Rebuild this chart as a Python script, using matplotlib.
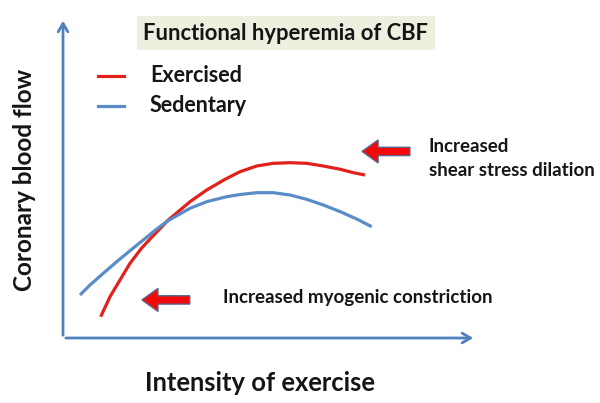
import matplotlib
matplotlib.use("Agg")
import matplotlib.pyplot as plt
from matplotlib.patches import FancyArrow, Rectangle

plt.rcParams["font.family"] = ["Lato", "DejaVu Sans"]

# ── Data (arbitrary units 0-100) ─────────────────────────────────────────────
exercised_x = [9.13, 11.38, 13.80, 16.22, 19.06, 21.07, 25.50, 30.75, 34.79, 39.23,
               42.86, 46.90, 50.92, 54.96, 59.01, 63.03, 67.14, 70.29, 73.12]
exercised_y = [6.66, 12.91, 18.13, 23.34, 28.13, 30.94, 36.88, 42.59, 46.25, 49.59,
               51.97, 53.75, 54.59, 54.78, 54.59, 53.75, 52.72, 51.66, 50.94]
sedentary_x = [4.12, 6.54, 9.76, 13.00, 16.22, 19.44, 22.69, 25.50, 30.75, 34.79,
               39.64, 42.86, 46.90, 50.92, 54.96, 59.01, 63.03, 67.14, 71.11, 74.75]
sedentary_y = [13.44, 16.56, 20.22, 23.84, 27.28, 30.63, 34.06, 36.72, 40.53, 42.59,
               44.16, 44.84, 45.41, 45.41, 44.69, 43.34, 41.56, 39.47, 37.19, 34.78]
series_labels = ["Exercised", "Sedentary"]

RED = "#E2201C"
BLUE = "#5A8CC8"
AXIS_CLR = "#4F81BD"
ARROW_EDGE = "#56688F"
TXT = "#151515"

W, H = 600, 403
fig = plt.figure(figsize=(6, 4.03), dpi=100)
fig.patch.set_facecolor("white")

# axes box in pixels: left 63, right 476, top 18, bottom 338
ax = fig.add_axes([63 / W, (H - 338) / H, (476 - 63) / W, (338 - 18) / H])
ax.set_xlim(0, 100)
ax.set_ylim(0, 100)
for s in ax.spines.values():
    s.set_visible(False)
ax.set_xticks([])
ax.set_yticks([])
ax.set_facecolor("none")

# axis arrows
arrow_kw = dict(arrowstyle="->,head_length=0.6,head_width=0.35", color=AXIS_CLR, lw=2)
ax.annotate("", xy=(1, 0), xytext=(0, 0), xycoords="axes fraction", arrowprops=arrow_kw)
ax.annotate("", xy=(0, 1), xytext=(0, 0), xycoords="axes fraction", arrowprops=arrow_kw)

ax.plot(exercised_x, exercised_y, color=RED, lw=2.3, solid_capstyle="butt")
ax.plot(sedentary_x, sedentary_y, color=BLUE, lw=2.3, solid_capstyle="butt")


def block_arrow(x_tip, y, length):
    a = FancyArrow(x_tip + length, y, -length, 0, width=2.6, head_width=7.2,
                   head_length=3.9, length_includes_head=True,
                   facecolor="#F20A0A", edgecolor=ARROW_EDGE, lw=1.0,
                   transform=ax.transData, zorder=4)
    ax.add_patch(a)


block_arrow(72.4, 58.3, 11.6)
block_arrow(19.1, 11.9, 11.6)

ax.text(88.6, 60.0, "Increased", fontsize=13.5, fontweight="bold", ha="left", va="center",
        color=TXT)
ax.text(88.6, 52.5, "shear stress dilation", fontsize=13.5, fontweight="bold", ha="left",
        va="center", color=TXT)
ax.text(38.7, 12.8, "Increased myogenic constriction", fontsize=13.5, fontweight="bold",
        ha="left", va="center", color=TXT)

# legend (hand placed as in the original slide)
for lbl, clr, yp in zip(series_labels, [RED, BLUE], [76, 106]):
    fy = (H - yp) / H
    fig.add_artist(plt.Line2D([98 / W, 124 / W], [fy, fy], color=clr, lw=2.3))
    fig.text(150 / W, fy, lbl, fontsize=15.5, fontweight="bold", ha="left", va="center",
             color=TXT)

# title box
fig.add_artist(Rectangle((137 / W, (H - 50) / H), (435 - 137) / W, 34 / H,
                         transform=fig.transFigure, facecolor="#EBF1DE", edgecolor="none"))
fig.text(143 / W, (H - 33) / H, "Functional hyperemia of CBF", fontsize=15.8,
         fontweight="bold", ha="left", va="center", color=TXT)

fig.text(25 / W, (H - 180) / H, "Coronary blood flow", fontsize=17.5, fontweight="bold",
         rotation=90, ha="center", va="center", color=TXT)
fig.text(260 / W, (H - 383) / H, "Intensity of exercise", fontsize=18.4, fontweight="bold",
         ha="center", va="center", color=TXT)

fig.savefig("out.png", dpi=100, facecolor="white")
